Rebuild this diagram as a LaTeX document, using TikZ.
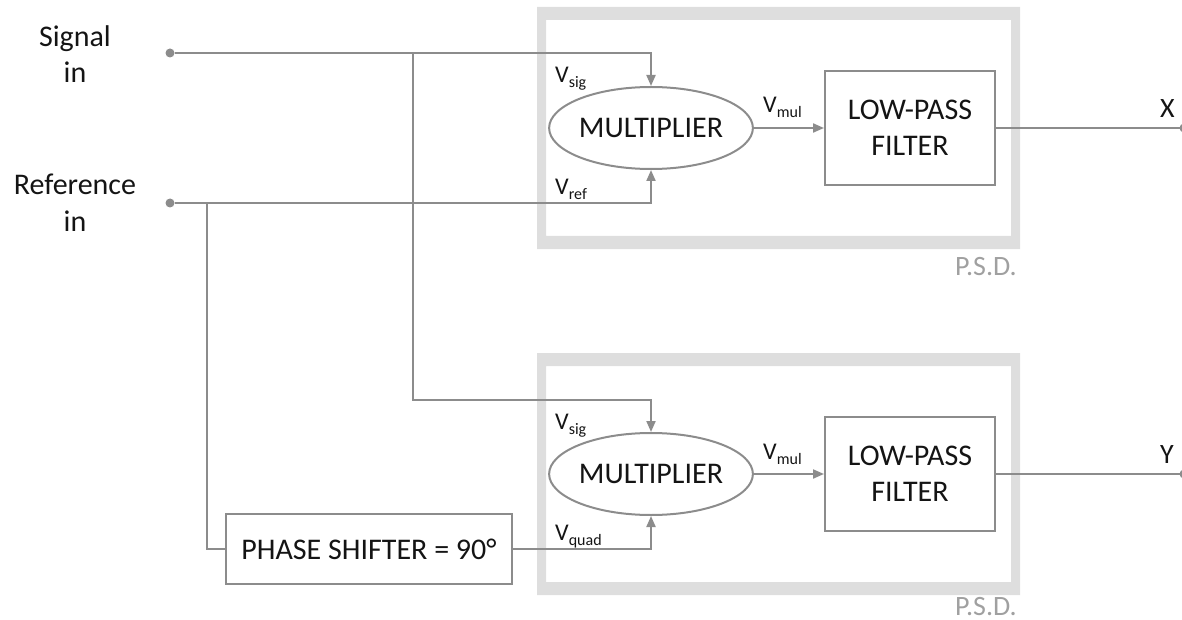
\documentclass[tikz,border=0pt]{standalone}
\usepackage{fontspec}
\setmainfont{Carlito}
\usetikzlibrary{arrows.meta,shapes.geometric}
\definecolor{wire}{HTML}{8C8C8C}
\definecolor{psdgray}{HTML}{DEDEDE}
\definecolor{psdtext}{HTML}{A0A0A0}
\definecolor{txt}{HTML}{141414}
\newcommand\Vsub[1]{V\raisebox{-5pt}{\fontsize{16}{16}\selectfont #1}}
\begin{document}
\begin{tikzpicture}[x=1pt,y=-1pt,
  wireline/.style={draw=wire,line width=2pt},
  arr/.style={wireline,-{Triangle[length=11pt,width=9pt]}},
  blockbox/.style={draw=wire,line width=2pt,rectangle,inner sep=0pt,align=center,text=txt,font=\fontsize{30}{36}\selectfont},
  mulbox/.style={draw=wire,line width=2pt,ellipse,minimum width=198pt,minimum height=82pt,inner sep=0pt,text=txt,font=\fontsize{30}{36}\selectfont},
  lab/.style={inner sep=0pt,anchor=base west,text=txt,font=\fontsize{24}{26}\selectfont},
  big/.style={inner sep=0pt,anchor=base,text=txt,font=\fontsize{30}{36}\selectfont},
  outlab/.style={inner sep=0pt,anchor=base west,text=txt,font=\fontsize{28}{30}\selectfont},
  psd/.style={inner sep=0pt,anchor=base west,text=psdtext,font=\fontsize{28}{32}\selectfont},
  dot/.style={circle,fill=wire,inner sep=0pt,minimum size=9pt}
]
\path[use as bounding box] (0,0) rectangle (1182,620);

% P.S.D. frames
\fill[psdgray,even odd rule] (537,7) rectangle (1020,249) (546,20) rectangle (1011,236);
\fill[psdgray,even odd rule] (537,353) rectangle (1020,595) (546,366) rectangle (1011,582);
\node[psd] (psd1) at (955,275) {P.S.D.};
\node[psd] (psd2) at (955,615) {P.S.D.};

% input labels
\node[big] (sigA) at (75,47) {Signal};
\node[big] (sigB) at (75,83) {in};
\node[big] (refA) at (75,195) {Reference};
\node[big] (refB) at (75,232) {in};

% dots and junctions
\node[dot] (sigdot) at (170,53) {};
\node[dot] (refdot) at (170,203) {};
\coordinate (j1) at (413,53);
\coordinate (j2) at (413,400);
\coordinate (r1) at (207,203);
\node[dot] (out1) at (1184,128) {};
\node[dot] (out2) at (1184,474) {};

% blocks
\node[mulbox] (mul1) at (651,128) {MULTIPLIER};
\node[blockbox,minimum width=170pt,minimum height=114pt] (lpf1) at (910,128) {LOW-PASS\\FILTER};
\node[mulbox] (mul2) at (651,474) {MULTIPLIER};
\node[blockbox,minimum width=170pt,minimum height=114pt] (lpf2) at (910,474) {LOW-PASS\\FILTER};
\node[blockbox,minimum width=286pt,minimum height=70pt] (phase) at (369,549) {PHASE SHIFTER = 90°};

% connectors
\draw[arr] (sigdot) -| (mul1.north);
\draw[arr] (j1) -- (j2) -| (mul2.north);
\draw[arr] (refdot) -| (mul1.south);
\draw[wireline] (r1) |- (phase.west);
\draw[arr] (phase.east) -| (mul2.south);
\draw[arr] (mul1.east) -- (lpf1.west);
\draw[arr] (mul2.east) -- (lpf2.west);
\draw[wireline] (lpf1.east) -- (out1.center);
\draw[wireline] (lpf2.east) -- (out2.center);

% signal labels
\node[lab] (vsig1) at (555,83) {\Vsub{sig}};
\node[lab] (vref1) at (555,195) {\Vsub{ref}};
\node[lab] (vmul1) at (763,113) {\Vsub{mul}};
\node[lab] (vsig2) at (555,429) {\Vsub{sig}};
\node[lab] (vquad) at (555,540) {\Vsub{quad}};
\node[lab] (vmul2) at (763,459) {\Vsub{mul}};
\node[outlab] (xlab) at (1160,118) {X};
\node[outlab] (ylab) at (1160,463) {Y};
\end{tikzpicture}
\end{document}
